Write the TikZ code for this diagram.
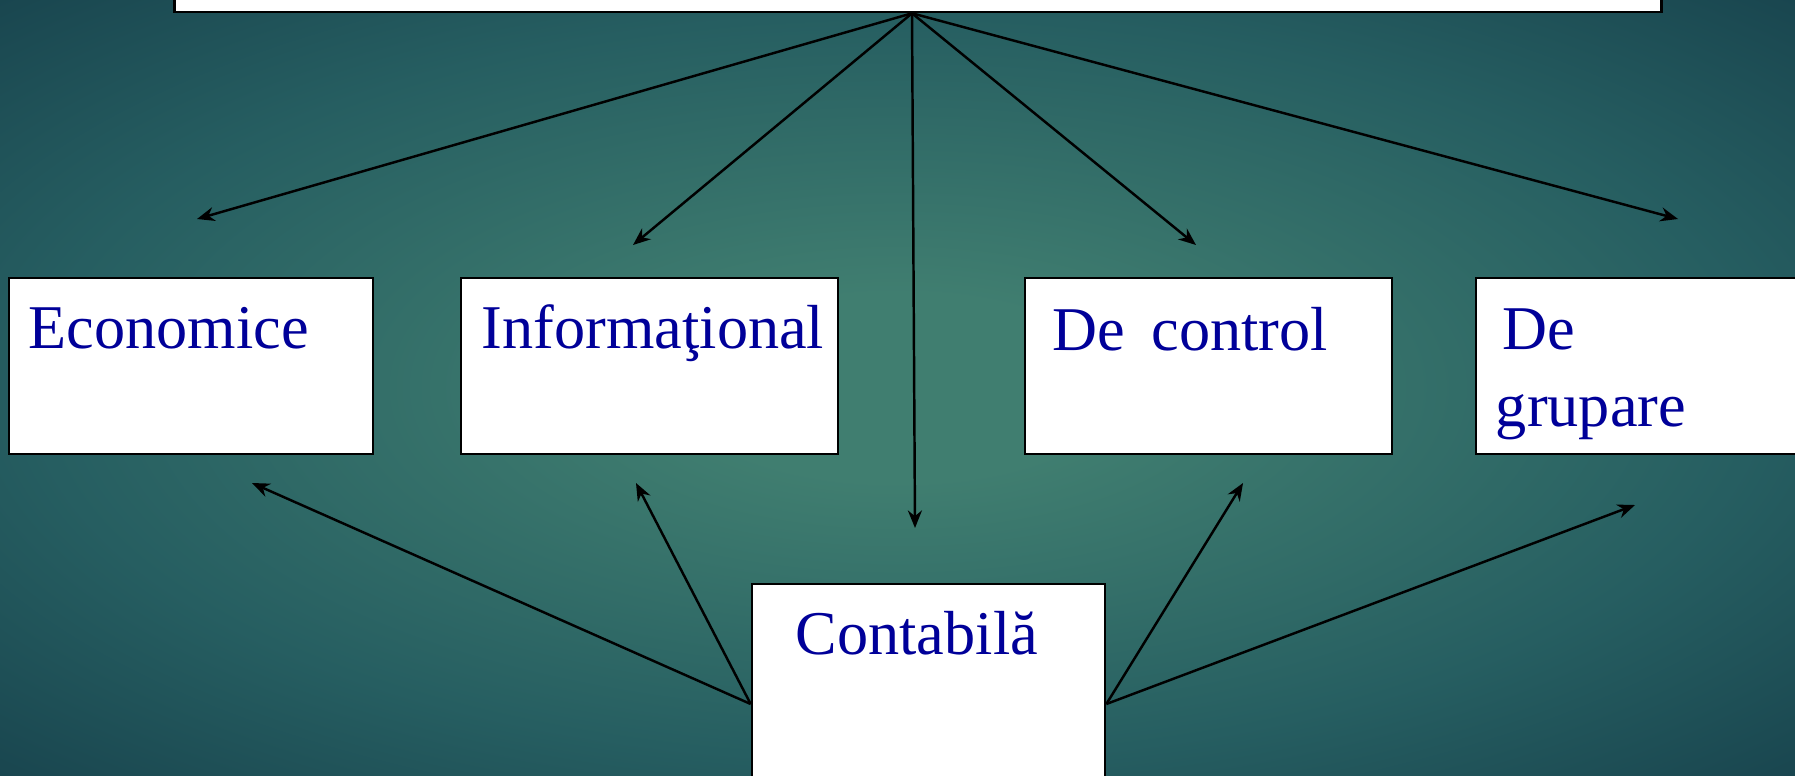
\documentclass[tikz,border=0pt]{standalone}
\usepackage{fontspec}
\setmainfont{Liberation Serif}
\usetikzlibrary{arrows.meta,calc}
\definecolor{bgin}{RGB}{64,126,112}
\definecolor{bgmid}{RGB}{38,94,97}
\definecolor{bgout}{RGB}{20,60,72}
\definecolor{txtblue}{RGB}{0,0,153}
\pgfdeclareradialshading{bgglow}{\pgfpoint{0bp}{0bp}}{color(0bp)=(bgin);color(6bp)=(bgin);color(24bp)=(bgmid);color(40bp)=(bgout);color(72bp)=(bgout)}
\tikzset{box/.style={draw=black,fill=white,line width=0.7pt,inner sep=0pt,minimum height=1.76cm},
	lbl/.style={text=txtblue,inner sep=0pt,align=left,font=\fontsize{17.7}{21.8}\selectfont}}
\begin{document}
\begin{tikzpicture}[>={Stealth[length=5pt,width=4pt]},x=0.01cm,y=-0.01cm,line width=0.7pt]
	\useasboundingbox (0,0) rectangle (1795,775);
	\clip (0,0) rectangle (1795,775);
	\shade[shading=bgglow] (0,0) rectangle (1795,775);
	% boxes
	\node[box,minimum width=14.86cm,minimum height=1.32cm] (top) at (918,-54) {};
	\node[box,minimum width=3.64cm] (econ) at (191,366) {};
	\node[box,minimum width=3.77cm] (info) at (649.5,366) {};
	\node[box,minimum width=3.67cm] (ctrl) at (1208.5,366) {};
	\node[box,minimum width=3.74cm] (grup) at (1663,366) {};
	\node[box,minimum width=3.53cm,minimum height=2.4cm] (cont) at (928.5,704) {};
	% texts
	\node[lbl,anchor=base west] (lEcon) at ($(econ.north west)+(20,72)$) {Economice};
	\node[lbl,anchor=base west] (lInfo) at ($(info.north west)+(21,72)$) {Informaţional};
	\node[lbl,anchor=base west] (lCtrl) at ($(ctrl.north west)+(28,74)$) {De\ \,control};
	\node[lbl,anchor=north west] (lGrup) at ($(grup.north west)+(20,31)$) {\hspace{2pt}De\\grupare};
	\node[lbl,anchor=base west] (lCont) at ($(cont.north west)+(44,72)$) {Contabilă};
	% arrow ends
	\coordinate (apex) at ($(top.south)+(-6,0)$);
	\coordinate (tEcon) at (197,219); \coordinate (tInfo) at (633,245); \coordinate (tCont) at (915,528);
	\coordinate (tCtrl) at (1196,245); \coordinate (tGrup) at (1678,219);
	\coordinate (uEcon) at (252,483); \coordinate (uInfo) at (636,483); \coordinate (uCtrl) at (1243,483);
	\coordinate (uGrup) at (1635,505);
	\draw[->] (apex)--(tEcon); \draw[->] (apex)--(tInfo); \draw[->] (apex)--(tCont);
	\draw[->] (apex)--(tCtrl); \draw[->] (apex)--(tGrup);
	\draw[->] (cont.west)--(uEcon); \draw[->] (cont.west)--(uInfo);
	\draw[->] (cont.east)--(uCtrl); \draw[->] (cont.east)--(uGrup);
\end{tikzpicture}
\end{document}
